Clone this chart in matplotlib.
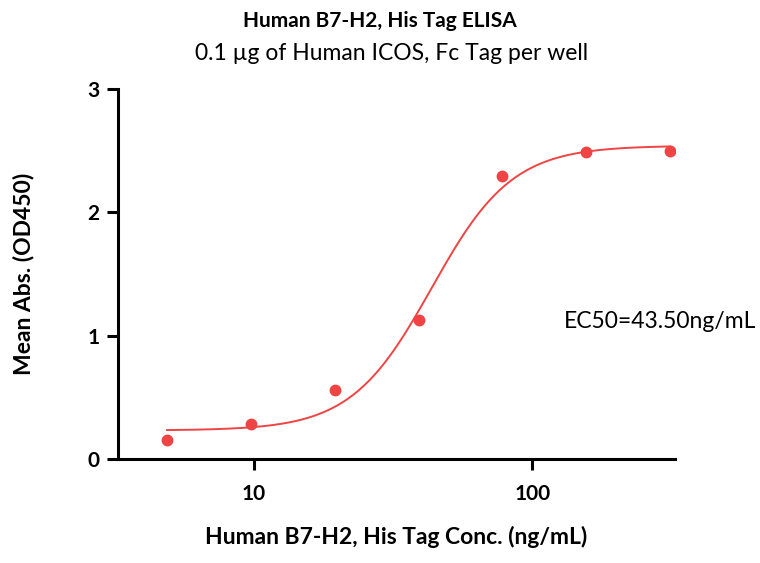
import numpy as np
import matplotlib.pyplot as plt

plt.rcParams['font.family'] = ['Lato', 'DejaVu Sans']

# Measured data (ng/mL vs OD450)
conc = [4.88, 9.77, 19.53, 39.06, 78.13, 156.25, 312.5]
od450 = [0.15, 0.28, 0.56, 1.13, 2.29, 2.49, 2.50]

# 4PL fit parameters
bottom, top, ec50, hill = 0.23, 2.54, 43.50, 3.0

red = '#F04444'

fig = plt.figure(figsize=(7.6, 5.63), dpi=100)
ax = fig.add_axes([0.155, 0.185, 0.733, 0.657])

xs = np.logspace(np.log10(conc[0]), np.log10(conc[-1]), 300)
fit = bottom + (top - bottom) / (1 + (ec50 / xs) ** hill)
ax.plot(xs, fit, color=red, lw=1.4)
ax.plot(conc, od450, 'o', color=red, ms=7.5)

ax.set_xscale('log')
ax.set_xlim(3.25, 325)
ax.set_ylim(0, 3)
ax.set_yticks([0, 1, 2, 3])
ax.set_xticks([10, 100])
ax.set_xticklabels(['10', '100'])
ax.minorticks_off()

for s in ['top', 'right']:
    ax.spines[s].set_visible(False)
for s in ['left', 'bottom']:
    ax.spines[s].set_linewidth(2.2)
ax.tick_params(width=2.2, length=8, labelsize=15)
ax.tick_params(axis='y', pad=5)
ax.tick_params(axis='x', pad=10)
for lbl in ax.get_yticklabels() + ax.get_xticklabels():
    lbl.set_fontweight('bold')

ax.set_xlabel('Human B7-H2, His Tag Conc. (ng/mL)', fontsize=16.5, fontweight='bold', labelpad=16)
ax.set_ylabel('Mean Abs. (OD450)', fontsize=16.5, fontweight='bold', labelpad=38)

fig.text(0.5, 0.962, 'Human B7-H2, His Tag ELISA', ha='center', va='center',
         fontsize=15, fontweight='bold')
fig.text(0.515, 0.905, '0.1 µg of Human ICOS, Fc Tag per well', ha='center', va='center',
         fontsize=16.5)
ax.text(0.80, 0.37, 'EC50=43.50ng/mL', transform=ax.transAxes, fontsize=16.5,
        ha='left', va='center')

fig.savefig('out.png', dpi=100, facecolor='white')
